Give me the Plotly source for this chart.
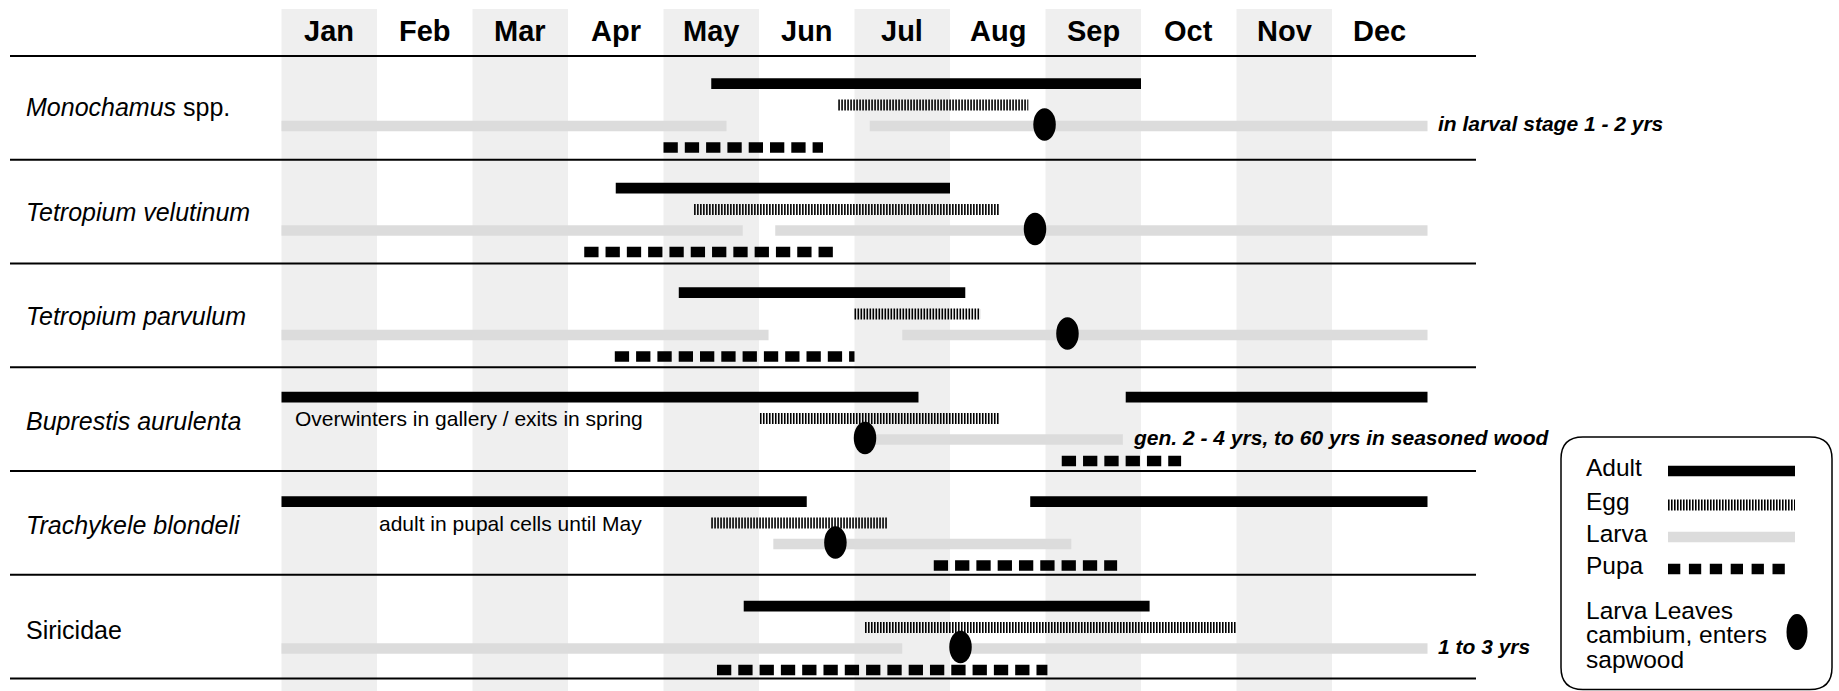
import plotly.graph_objects as go

# ---------------- data (months measured from Jan 1, 0..12) ----------------
months = ["Jan", "Feb", "Mar", "Apr", "May", "Jun", "Jul", "Aug", "Sep", "Oct", "Nov", "Dec"]
species = ["<i>Monochamus</i> spp.", "<i>Tetropium velutinum</i>", "<i>Tetropium parvulum</i>",
           "<i>Buprestis aurulenta</i>", "<i>Trachykele blondeli</i>", "Siricidae"]

adult = [[(4.50, 9.00)],
         [(3.50, 7.00)],
         [(4.16, 7.16)],
         [(0.00, 6.67), (8.84, 12.0)],
         [(0.00, 5.50), (7.84, 12.0)],
         [(4.84, 9.09)]]
egg = [[(5.83, 7.82)],
       [(4.32, 7.51)],
       [(6.00, 7.32)],
       [(5.01, 7.51)],
       [(4.50, 6.34)],
       [(6.11, 9.99)]]
larva = [[(0.00, 4.66), (6.16, 12.0)],
         [(0.00, 4.83), (5.17, 12.0)],
         [(0.00, 5.10), (6.50, 12.0)],
         [(6.11, 8.81)],
         [(5.15, 8.27)],
         [(0.00, 6.50), (7.11, 12.0)]]
pupa = [[(4.00, 5.67)],
        [(3.17, 5.78)],
        [(3.49, 6.00)],
        [(8.17, 9.42)],
        [(6.83, 8.75)],
        [(4.56, 8.02)]]
leaves_cambium = [7.99, 7.89, 8.23, 6.11, 5.80, 7.11]

notes_right = ["in larval stage 1 - 2 yrs", "", "", "gen. 2 - 4 yrs, to 60 yrs in seasoned wood", "", "1 to 3 yrs"]
notes_inline_rows = [3, 4]
notes_inline_x = [0.12, 1.0]
notes_inline_text = ["Overwinters in gallery / exits in spring", "adult in pupal cells until May"]

legend_labels = ["Adult", "Egg", "Larva", "Pupa"]
legend_ellipse_lines = ["Larva Leaves", "cambium, enters", "sapwood"]

# ---------------- layout constants ----------------
W, H = 1839, 691
X0, MW = 281.5, 95.5          # pixel of Jan 1 and pixels per month
FONT = "Liberation Sans, Arial, Helvetica, sans-serif"
ROW0, PITCH = 83.7, 104.5
OFF = {"adult": 0.0, "egg": 21.3, "larva": 42.3, "pupa": 63.8, "ell": 40.8}
STY = {
    "adult": dict(color="black", width=10.7, dash="solid"),
    "egg": dict(color="black", width=11, dash="1.6px,1.4px"),
    "larva": dict(color="#dcdcdc", width=10.5, dash="solid"),
    "pupa": dict(color="black", width=10.5, dash="14.3px,7px"),
}
EW, EH = 22.5, 32.5


def px2x(px):
    return (px - X0) / MW


fig = go.Figure()

# month shading
for m in range(0, 12, 2):
    fig.add_shape(type="rect", xref="x", yref="y", x0=m, x1=m + 1, y0=9, y1=H,
                  fillcolor="#efefef", line_width=0, layer="below")

# row separators
for k in range(7):
    ys = 56 + k * 103.75
    fig.add_shape(type="line", xref="x", yref="y", x0=px2x(10), x1=px2x(1476), y0=ys, y1=ys,
                  line=dict(color="black", width=2.2), layer="below")


def seg(xa, xb, y, style):
    fig.add_trace(go.Scatter(x=[xa, xb], y=[y, y], mode="lines", line=STY[style],
                             hoverinfo="skip", showlegend=False))


for i in range(len(species)):
    base = ROW0 + i * PITCH
    for key, data in (("larva", larva), ("adult", adult), ("egg", egg), ("pupa", pupa)):
        for (a, b) in data[i]:
            seg(a, b, base + OFF[key], key)
    e = leaves_cambium[i]
    ye = base + OFF["ell"]
    fig.add_shape(type="circle", xref="x", yref="y",
                  x0=e - EW / 2 / MW, x1=e + EW / 2 / MW, y0=ye - EH / 2, y1=ye + EH / 2,
                  fillcolor="black", line_width=0)
    # species label
    fig.add_annotation(xref="paper", yref="y", x=24 / W, y=base + 23.5, text=species[i],
                       showarrow=False, xanchor="left", yanchor="middle",
                       font=dict(family=FONT, size=25, color="black"))
    if notes_right[i]:
        xend = max(b for (a, b) in larva[i])
        fig.add_annotation(xref="x", yref="y", x=xend + 8 / MW, y=base + OFF["larva"] - 2.5,
                           text="<b><i>" + notes_right[i] + "</i></b>", showarrow=False,
                           xanchor="left", yanchor="middle",
                           font=dict(family=FONT, size=21, color="black"))

for r, xx, t in zip(notes_inline_rows, notes_inline_x, notes_inline_text):
    fig.add_annotation(xref="x", yref="y", x=xx, y=ROW0 + r * PITCH + OFF["egg"], text=t,
                       showarrow=False, xanchor="left", yanchor="middle",
                       font=dict(family=FONT, size=21, color="black"))

# month labels
for m, name in enumerate(months):
    fig.add_annotation(xref="x", yref="y", x=m + 0.5, y=31, text="<b>" + name + "</b>",
                       showarrow=False, xanchor="center", yanchor="middle",
                       font=dict(family=FONT, size=29, color="black"))

# ---------------- legend box ----------------
L, R, T, B = px2x(1561), px2x(1832), 437, 689.5
rx, ry = 22 / MW, 22
path = (f"M {L + rx},{T} L {R - rx},{T} Q {R},{T} {R},{T + ry} L {R},{B - ry} "
        f"Q {R},{B} {R - rx},{B} L {L + rx},{B} Q {L},{B} {L},{B - ry} L {L},{T + ry} "
        f"Q {L},{T} {L + rx},{T} Z")
fig.add_shape(type="path", xref="x", yref="y", path=path, fillcolor="white",
              line=dict(color="black", width=1.5), layer="below")

leg_y = [469, 503, 535, 567]
leg_keys = ["adult", "egg", "larva", "pupa"]
for lab, yy, key in zip(legend_labels, leg_y, leg_keys):
    fig.add_annotation(xref="x", yref="y", x=px2x(1584), y=yy - 2, text=lab, showarrow=False,
                       xanchor="left", yanchor="middle",
                       font=dict(family=FONT, size=24.5, color="black"))
    st = dict(STY[key])
    xe = 1795
    if key == "pupa":
        st["dash"] = "12.3px,8.6px"
        xe = 1786
    fig.add_trace(go.Scatter(x=[px2x(1668), px2x(xe)], y=[yy + 2, yy + 2], mode="lines",
                             line=st, hoverinfo="skip", showlegend=False))

for j, t in enumerate(legend_ellipse_lines):
    fig.add_annotation(xref="x", yref="y", x=px2x(1584), y=610 + j * 24.8, text=t,
                       showarrow=False, xanchor="left", yanchor="middle",
                       font=dict(family=FONT, size=24.5, color="black"))
fig.add_shape(type="circle", xref="x", yref="y", x0=px2x(1786.5), x1=px2x(1807.5),
              y0=614, y1=650, fillcolor="black", line_width=0, layer="above")

fig.update_layout(
    width=W, height=H, autosize=False,
    margin=dict(l=0, r=0, t=0, b=0, pad=0),
    paper_bgcolor="white", plot_bgcolor="white",
    xaxis=dict(range=[px2x(0), px2x(W)], visible=False, fixedrange=True),
    yaxis=dict(range=[H, 0], visible=False, fixedrange=True),
    showlegend=False,
)

fig.write_html("out.html", config={"displayModeBar": False},
               post_script="document.body.style.margin='0';document.body.style.overflow='hidden';")
